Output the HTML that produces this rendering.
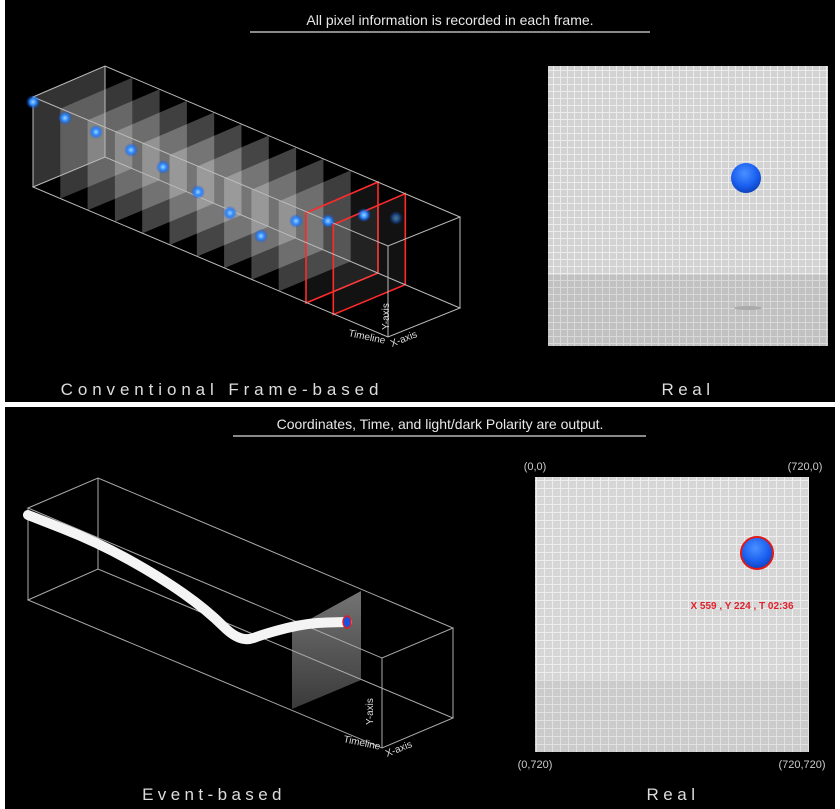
<!DOCTYPE html>
<html><head><meta charset="utf-8"><style>
body{margin:0;background:#fff;width:840px;height:809px;overflow:hidden;font-family:"Liberation Sans",sans-serif}
svg{display:block}
</style></head><body>
<svg width="840" height="809" viewBox="0 0 840 809">
<defs>
<pattern id="grid" width="7" height="7" patternUnits="userSpaceOnUse"><rect width="7" height="7" fill="#d2d2d2"/><path d="M0 0.5H7M0.5 0V7" stroke="#ececec" stroke-width="1"/></pattern>
<pattern id="grid2" width="8" height="8" patternUnits="userSpaceOnUse"><rect width="8" height="8" fill="#d6d6d6"/><path d="M0 0.5H8M0.5 0V8" stroke="#eeeeee" stroke-width="1"/></pattern>
<radialGradient id="ball" cx="0.45" cy="0.35" r="0.7"><stop offset="0" stop-color="#4a90ff"/><stop offset="0.6" stop-color="#1a5ff0"/><stop offset="1" stop-color="#0b3db0"/></radialGradient>
<radialGradient id="glow"><stop offset="0" stop-color="#9fd4ff"/><stop offset="0.45" stop-color="#2d8cff"/><stop offset="1" stop-color="#0050ff" stop-opacity="0"/></radialGradient>
<linearGradient id="evframe" x1="0" y1="0" x2="0" y2="1"><stop offset="0" stop-color="#888"/><stop offset="1" stop-color="#444"/></linearGradient>
</defs>
<rect x="5" y="0" width="830" height="402" fill="#000"/>
<text x="450" y="25" fill="#e8e8e8" font-size="14" text-anchor="middle">All pixel information is recorded in each frame.</text>
<line x1="250" y1="32" x2="650" y2="32" stroke="#ddd" stroke-width="1.3"/>
<g id="frames"></g>
<g stroke="#bbb" stroke-width="1" fill="none">
<path d="M33 97L105 66L460 217L388 246Z"/><path d="M33 187L105 157L460 308L388 337Z"/>
<path d="M33 97V187M105 66V157M460 217V308M388 246V337"/>
</g>
<g id="balls"></g>
<text x="0" y="0" fill="#ddd" font-size="10" transform="translate(389 330) rotate(-90)">Y-axis</text>
<text x="348" y="336" fill="#ddd" font-size="10" transform="rotate(12 348 336)">Timeline</text>
<text x="392" y="347" fill="#ddd" font-size="10" transform="rotate(-22 392 347)">X-axis</text>
<text x="222" y="395" fill="#ddd" font-size="17" letter-spacing="4.9" text-anchor="middle">Conventional Frame-based</text>
<rect x="548" y="66" width="280" height="280" fill="url(#grid)"/>
<rect x="548" y="275" width="280" height="71" fill="#000" opacity="0.08"/>
<ellipse cx="748" cy="308" rx="14" ry="2" fill="#aaa"/>
<circle cx="746" cy="178" r="15" fill="url(#ball)"/>
<text x="688" y="395" fill="#ddd" font-size="17" letter-spacing="4.5" text-anchor="middle">Real</text>
<rect x="5" y="407" width="830" height="402" fill="#000"/>
<text x="440" y="429" fill="#e8e8e8" font-size="14" text-anchor="middle">Coordinates, Time, and light/dark Polarity are output.</text>
<line x1="233" y1="436" x2="646" y2="436" stroke="#ddd" stroke-width="1.3"/>
<path d="M292 629L361 591L361 680L292 709Z" fill="url(#evframe)" opacity="0.85"/>
<g stroke="#aaa" stroke-width="1" fill="none">
<path d="M28 508L98 478L453 628L382 658Z"/><path d="M28 600L98 569L453 718L382 748Z"/>
<path d="M28 508V600M98 478V569M453 628V718M382 658V748"/>
</g>
<path id="trail" d="" stroke="#f4f4f4" stroke-width="10" fill="none" stroke-linecap="round" stroke-linejoin="round"/>
<ellipse cx="347" cy="622" rx="4" ry="6" fill="#1a4fe0" stroke="#e02020" stroke-width="1.5"/>
<text x="0" y="0" fill="#ddd" font-size="10" transform="translate(373 725) rotate(-90)">Y-axis</text>
<text x="343" y="742" fill="#ddd" font-size="10" transform="rotate(12 343 742)">Timeline</text>
<text x="387" y="757" fill="#ddd" font-size="10" transform="rotate(-22 387 757)">X-axis</text>
<text x="214" y="800" fill="#ddd" font-size="17" letter-spacing="4.4" text-anchor="middle">Event-based</text>
<rect x="535" y="477" width="274" height="275" fill="url(#grid2)"/>
<rect x="535" y="680" width="274" height="72" fill="#000" opacity="0.05"/>
<circle cx="757" cy="553" r="16" fill="url(#ball)" stroke="#e01818" stroke-width="2"/>
<text x="742" y="609" fill="#e0202a" font-size="10" font-weight="bold" text-anchor="middle">X 559 , Y 224 , T 02:36</text>
<text x="535" y="470" fill="#ccc" font-size="11" text-anchor="middle">(0,0)</text>
<text x="805" y="470" fill="#ccc" font-size="11" text-anchor="middle">(720,0)</text>
<text x="535" y="768" fill="#ccc" font-size="11" text-anchor="middle">(0,720)</text>
<text x="802" y="768" fill="#ccc" font-size="11" text-anchor="middle">(720,720)</text>
<text x="673" y="800" fill="#ddd" font-size="17" letter-spacing="4.5" text-anchor="middle">Real</text>
</svg>
<script>
const frameIndex=[0,1,2,3,4,5,6,7,8,9,10,11];
const redFrames=[10,11];
const ballX=[33,65,96,131,163,198,230,261,296,328,364,396];
const ballY=[102,118,132,150,167,192,213,236,221,221,215,218];
const trailX=[28,97,160,207,240,267,307,347];
const trailY=[515,542,577,610,643,633,623,622];
const NS='http://www.w3.org/2000/svg';
const fx=t=>t*27.3, fy=t=>t*11.6;
const fg=document.getElementById('frames');
frameIndex.forEach(t=>{
  const p=document.createElementNS(NS,'path');
  const dx=fx(t),dy=fy(t);
  p.setAttribute('d',`M${33+dx} ${97+dy}L${105+dx} ${66+dy}L${105+dx} ${157+dy}L${33+dx} ${187+dy}Z`);
  const red=redFrames.includes(t);
  p.setAttribute('fill','#fff');
  p.setAttribute('fill-opacity',red?0.07:(0.2+0.07*Math.sin(t/11*3.1)));
  if(red){p.setAttribute('stroke','#ff2a2a');p.setAttribute('stroke-width','1.6');}
  
  
  fg.appendChild(p);
});
const bg=document.getElementById('balls');
ballX.forEach((x,i)=>{
  const c=document.createElementNS(NS,'circle');
  c.setAttribute('cx',x);c.setAttribute('cy',ballY[i]);c.setAttribute('r',7);
  c.setAttribute('fill','url(#glow)');
  c.setAttribute('opacity',i===11?0.5:1);
  
  
  bg.appendChild(c);
});
let d='M'+trailX[0]+' '+trailY[0];
for(let i=1;i<trailX.length;i++){
  const mx=(trailX[i-1]+trailX[i])/2,my=(trailY[i-1]+trailY[i])/2;
  d+=` Q${trailX[i-1]} ${trailY[i-1]} ${mx} ${my}`;
}
d+=` L${trailX[trailX.length-1]} ${trailY[trailY.length-1]}`;
document.getElementById('trail').setAttribute('d',d);
</script>
</body></html>
